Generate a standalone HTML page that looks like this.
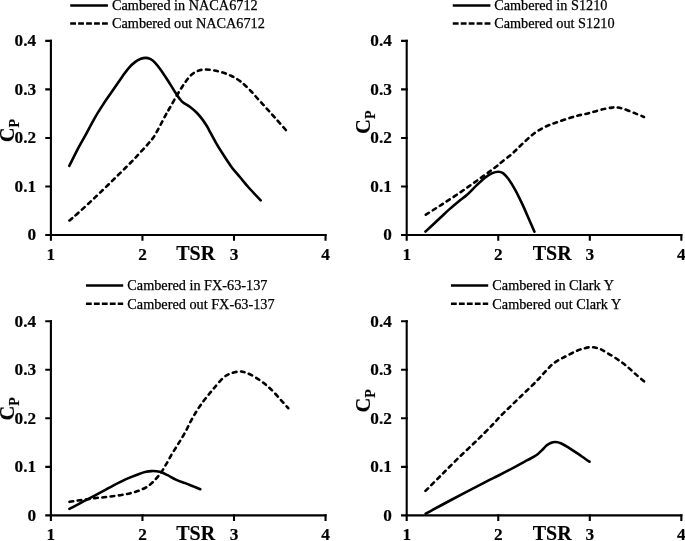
<!DOCTYPE html><html><head><meta charset="utf-8"><title>Cp vs TSR</title>
<style>html,body{margin:0;padding:0;background:#fff}svg{display:block;will-change:transform}text{font-family:"Liberation Serif","Times New Roman",serif;fill:#000}.b{font-weight:bold;stroke:#000;stroke-width:.15}.lt{stroke:#000;stroke-width:.25}.ax{stroke:#000;stroke-width:2.1;fill:none;stroke-linejoin:miter;stroke-linecap:square}.s{stroke:#000;stroke-width:2.6;fill:none;stroke-linecap:round;stroke-linejoin:round}.d{stroke:#000;stroke-width:2.6;fill:none;stroke-dasharray:3.7 4.6;stroke-linecap:round}.ld{stroke:#000;stroke-width:2.5;fill:none;stroke-dasharray:5.8 2.15}.ls{stroke:#000;stroke-width:2.5;fill:none}</style></head><body>
<svg width="685" height="541" viewBox="0 0 685 541">
<rect width="685" height="541" fill="#fff"/>
<g>
<path class="ax" d="M50.90 40.90 V235.00 H325.55"/>
<path class="ax" d="M50.90 235.00 h-4.6M50.90 186.47 h-4.6M50.90 137.95 h-4.6M50.90 89.42 h-4.6M50.90 40.90 h-4.6M50.90 235.00 v4.7M142.45 235.00 v4.7M234.00 235.00 v4.7M325.55 235.00 v4.7"/>
<text class="b" x="36.10" y="240.30" font-size="17.3" text-anchor="end">0</text>
<text class="b" x="36.10" y="191.78" font-size="17.3" text-anchor="end">0.1</text>
<text class="b" x="36.10" y="143.25" font-size="17.3" text-anchor="end">0.2</text>
<text class="b" x="36.10" y="94.72" font-size="17.3" text-anchor="end">0.3</text>
<text class="b" x="36.10" y="46.20" font-size="17.3" text-anchor="end">0.4</text>
<text class="b" x="50.90" y="260.35" font-size="17.3" text-anchor="middle">1</text>
<text class="b" x="142.45" y="260.35" font-size="17.3" text-anchor="middle">2</text>
<text class="b" x="234.00" y="260.35" font-size="17.3" text-anchor="middle">3</text>
<text class="b" x="325.55" y="260.35" font-size="17.3" text-anchor="middle">4</text>
<text class="b" x="195.70" y="259.60" font-size="20" text-anchor="middle">TSR</text>
<text class="b" transform="translate(13.70 142.20) rotate(-90)" font-size="20.5">C<tspan font-size="13.9" dy="5.2">P</tspan></text>
<path class="ls" d="M70.20 5.55 H107.90"/>
<path class="ld" d="M70.20 23.40 H107.90"/>
<text x="112.00" y="10.45" class="lt" font-size="14.25">Cambered in NACA6712</text>
<text x="112.00" y="28.30" class="lt" font-size="14.25">Cambered out NACA6712</text>
<path class="s" d="M69.29 165.92 C70.68 163.15 74.90 154.44 77.60 149.30 C80.30 144.16 82.58 140.43 85.50 135.10 C88.42 129.77 92.03 122.60 95.10 117.30 C98.17 112.00 100.97 107.75 103.90 103.30 C106.83 98.85 109.62 95.07 112.70 90.60 C115.78 86.13 119.70 80.30 122.40 76.50 C125.10 72.70 126.75 70.23 128.90 67.80 C131.05 65.37 133.30 63.40 135.30 61.90 C137.30 60.40 139.20 59.47 140.90 58.80 C142.60 58.13 143.97 57.88 145.50 57.90 C147.03 57.92 148.57 58.17 150.10 58.90 C151.63 59.63 152.85 60.38 154.70 62.30 C156.55 64.22 159.03 67.40 161.20 70.40 C163.37 73.40 165.40 76.70 167.70 80.30 C170.00 83.90 173.03 88.95 175.00 92.00 C176.97 95.05 178.15 96.85 179.50 98.60 C180.85 100.35 181.27 101.07 183.10 102.50 C184.93 103.93 188.18 105.45 190.50 107.20 C192.82 108.95 195.15 111.13 197.00 113.00 C198.85 114.87 200.07 116.40 201.60 118.40 C203.13 120.40 204.98 123.10 206.20 125.00 C207.42 126.90 207.32 126.92 208.90 129.80 C210.48 132.68 213.40 138.32 215.70 142.30 C218.00 146.28 220.07 149.60 222.70 153.70 C225.33 157.80 228.57 162.93 231.50 166.90 C234.43 170.87 237.37 173.98 240.30 177.50 C243.23 181.02 245.71 184.18 249.10 188.00 C252.49 191.82 258.73 198.33 260.65 200.40"/>
<path class="d" d="M69.44 220.48 C70.80 219.32 73.32 217.35 77.60 213.50 C81.88 209.65 89.25 202.92 95.10 197.40 C100.95 191.88 106.83 186.13 112.70 180.40 C118.57 174.67 125.90 167.45 130.30 163.00 C134.70 158.55 136.17 156.85 139.10 153.70 C142.03 150.55 145.27 147.20 147.90 144.10 C150.53 141.00 151.98 139.85 154.90 135.10 C157.82 130.35 162.88 120.20 165.40 115.60 C167.92 111.00 168.07 110.90 170.00 107.50 C171.93 104.10 174.65 99.13 177.00 95.20 C179.35 91.27 181.75 87.25 184.10 83.90 C186.45 80.55 188.77 77.28 191.10 75.10 C193.43 72.92 195.77 71.73 198.10 70.80 C200.43 69.87 202.47 69.57 205.10 69.50 C207.73 69.43 210.97 69.90 213.90 70.40 C216.83 70.90 219.77 71.57 222.70 72.50 C225.63 73.43 228.57 74.53 231.50 76.00 C234.43 77.47 237.37 79.10 240.30 81.30 C243.23 83.50 246.17 86.27 249.10 89.20 C252.03 92.13 254.97 95.68 257.90 98.90 C260.83 102.12 263.78 105.28 266.70 108.50 C269.62 111.72 272.15 114.55 275.40 118.20 C278.65 121.85 284.38 128.35 286.17 130.38"/>
</g>
<g>
<path class="ax" d="M406.70 40.90 V235.00 H681.35"/>
<path class="ax" d="M406.70 235.00 h-4.6M406.70 186.47 h-4.6M406.70 137.95 h-4.6M406.70 89.42 h-4.6M406.70 40.90 h-4.6M406.70 235.00 v4.7M498.25 235.00 v4.7M589.80 235.00 v4.7M681.35 235.00 v4.7"/>
<text class="b" x="391.90" y="240.30" font-size="17.3" text-anchor="end">0</text>
<text class="b" x="391.90" y="191.78" font-size="17.3" text-anchor="end">0.1</text>
<text class="b" x="391.90" y="143.25" font-size="17.3" text-anchor="end">0.2</text>
<text class="b" x="391.90" y="94.72" font-size="17.3" text-anchor="end">0.3</text>
<text class="b" x="391.90" y="46.20" font-size="17.3" text-anchor="end">0.4</text>
<text class="b" x="406.70" y="260.35" font-size="17.3" text-anchor="middle">1</text>
<text class="b" x="498.25" y="260.35" font-size="17.3" text-anchor="middle">2</text>
<text class="b" x="589.80" y="260.35" font-size="17.3" text-anchor="middle">3</text>
<text class="b" x="681.35" y="260.35" font-size="17.3" text-anchor="middle">4</text>
<text class="b" x="552.20" y="259.60" font-size="20" text-anchor="middle">TSR</text>
<text class="b" transform="translate(369.70 133.90) rotate(-90)" font-size="20.5">C<tspan font-size="13.9" dy="5.2">P</tspan></text>
<path class="ls" d="M452.80 5.55 H490.40"/>
<path class="ld" d="M452.80 23.40 H490.40"/>
<text x="494.20" y="10.45" class="lt" font-size="14.25">Cambered in S1210</text>
<text x="494.20" y="28.30" class="lt" font-size="14.25">Cambered out S1210</text>
<path class="s" d="M425.51 231.55 C426.69 230.46 429.95 227.48 432.60 225.00 C435.25 222.52 438.48 219.43 441.40 216.70 C444.32 213.97 447.18 211.18 450.10 208.60 C453.02 206.02 455.97 203.60 458.90 201.20 C461.83 198.80 464.77 196.83 467.70 194.20 C470.63 191.57 473.57 188.18 476.50 185.40 C479.43 182.62 482.67 179.55 485.30 177.50 C487.93 175.45 490.10 174.07 492.30 173.10 C494.50 172.13 496.73 171.70 498.50 171.70 C500.27 171.70 501.30 171.98 502.90 173.10 C504.50 174.22 506.05 175.62 508.10 178.40 C510.15 181.18 512.85 185.55 515.20 189.80 C517.55 194.05 519.87 198.92 522.20 203.90 C524.53 208.88 527.16 215.07 529.20 219.70 C531.24 224.33 533.58 229.69 534.46 231.69"/>
<path class="d" d="M425.83 214.71 C428.42 213.06 435.89 208.37 441.40 204.80 C446.91 201.23 453.05 197.27 458.90 193.30 C464.75 189.33 470.63 185.18 476.50 181.00 C482.37 176.82 489.88 171.38 494.10 168.20 C498.32 165.02 498.97 164.15 501.80 161.90 C504.63 159.65 508.63 156.78 511.10 154.70 C513.57 152.62 514.60 151.32 516.60 149.40 C518.60 147.48 520.93 145.23 523.10 143.20 C525.27 141.17 527.45 139.05 529.60 137.20 C531.75 135.35 533.70 133.68 536.00 132.10 C538.30 130.52 540.93 128.98 543.40 127.70 C545.87 126.42 548.18 125.43 550.80 124.40 C553.42 123.37 555.85 122.60 559.10 121.50 C562.35 120.40 566.97 118.83 570.30 117.80 C573.63 116.77 576.17 116.03 579.10 115.30 C582.03 114.57 584.97 114.13 587.90 113.40 C590.83 112.67 593.78 111.68 596.70 110.90 C599.62 110.12 602.85 109.25 605.40 108.70 C607.95 108.15 610.23 107.82 612.00 107.60 C613.77 107.38 614.17 107.22 616.00 107.40 C617.83 107.58 619.78 107.70 623.00 108.70 C626.22 109.70 631.80 112.02 635.30 113.40 C638.80 114.78 642.54 116.38 643.98 116.98"/>
</g>
<g>
<path class="ax" d="M50.90 321.25 V515.35 H325.55"/>
<path class="ax" d="M50.90 515.35 h-4.6M50.90 466.83 h-4.6M50.90 418.30 h-4.6M50.90 369.77 h-4.6M50.90 321.25 h-4.6M50.90 515.35 v4.7M142.45 515.35 v4.7M234.00 515.35 v4.7M325.55 515.35 v4.7"/>
<text class="b" x="36.10" y="520.65" font-size="17.3" text-anchor="end">0</text>
<text class="b" x="36.10" y="472.13" font-size="17.3" text-anchor="end">0.1</text>
<text class="b" x="36.10" y="423.60" font-size="17.3" text-anchor="end">0.2</text>
<text class="b" x="36.10" y="375.07" font-size="17.3" text-anchor="end">0.3</text>
<text class="b" x="36.10" y="326.55" font-size="17.3" text-anchor="end">0.4</text>
<text class="b" x="50.90" y="540.25" font-size="17.3" text-anchor="middle">1</text>
<text class="b" x="142.45" y="540.25" font-size="17.3" text-anchor="middle">2</text>
<text class="b" x="234.00" y="540.25" font-size="17.3" text-anchor="middle">3</text>
<text class="b" x="325.55" y="540.25" font-size="17.3" text-anchor="middle">4</text>
<text class="b" x="195.70" y="539.95" font-size="20" text-anchor="middle">TSR</text>
<text class="b" transform="translate(13.70 420.50) rotate(-90)" font-size="20.5">C<tspan font-size="13.9" dy="5.2">P</tspan></text>
<path class="ls" d="M85.95 285.50 H123.20"/>
<path class="ld" d="M85.95 303.76 H123.20"/>
<text x="127.30" y="290.40" class="lt" font-size="14.25">Cambered in FX-63-137</text>
<text x="127.30" y="308.66" class="lt" font-size="14.25">Cambered out FX-63-137</text>
<path class="s" d="M69.38 508.89 C70.75 508.18 74.76 506.10 77.60 504.60 C80.44 503.10 83.48 501.45 86.40 499.90 C89.32 498.35 92.18 496.85 95.10 495.30 C98.02 493.75 100.97 492.18 103.90 490.60 C106.83 489.02 109.77 487.33 112.70 485.80 C115.63 484.27 118.57 482.80 121.50 481.40 C124.43 480.00 127.37 478.65 130.30 477.40 C133.23 476.15 136.47 474.83 139.10 473.90 C141.73 472.97 144.05 472.27 146.10 471.80 C148.15 471.33 149.63 471.18 151.40 471.10 C153.17 471.02 154.92 471.07 156.70 471.30 C158.48 471.53 160.28 471.85 162.10 472.50 C163.92 473.15 165.22 473.97 167.60 475.20 C169.98 476.43 173.48 478.58 176.40 479.90 C179.32 481.22 182.18 481.98 185.10 483.10 C188.02 484.22 191.37 485.59 193.90 486.60 C196.43 487.61 199.22 488.76 200.28 489.19"/>
<path class="d" d="M69.49 501.83 C70.84 501.63 74.78 501.01 77.60 500.60 C80.42 500.19 83.48 499.82 86.40 499.40 C89.32 498.98 92.18 498.45 95.10 498.10 C98.02 497.75 100.97 497.62 103.90 497.30 C106.83 496.98 109.77 496.58 112.70 496.20 C115.63 495.82 118.57 495.50 121.50 495.00 C124.43 494.50 127.37 493.93 130.30 493.20 C133.23 492.47 136.17 491.77 139.10 490.60 C142.03 489.43 145.27 487.97 147.90 486.20 C150.53 484.43 152.67 482.35 154.90 480.00 C157.13 477.65 159.42 474.73 161.30 472.10 C163.18 469.47 164.48 467.12 166.20 464.20 C167.92 461.28 169.80 457.65 171.60 454.60 C173.40 451.55 175.38 448.50 177.00 445.90 C178.62 443.30 179.80 441.53 181.30 439.00 C182.80 436.47 184.60 433.32 186.00 430.70 C187.40 428.08 188.40 425.77 189.70 423.30 C191.00 420.83 192.42 418.30 193.80 415.90 C195.18 413.50 196.53 411.17 198.00 408.90 C199.47 406.63 200.92 404.57 202.60 402.30 C204.28 400.03 206.27 397.58 208.10 395.30 C209.93 393.02 210.97 391.60 213.60 388.60 C216.23 385.60 220.92 379.87 223.90 377.30 C226.88 374.73 228.85 374.17 231.50 373.20 C234.15 372.23 237.25 371.53 239.80 371.50 C242.35 371.47 244.17 372.02 246.80 373.00 C249.43 373.98 252.67 375.63 255.60 377.40 C258.53 379.17 261.48 381.25 264.40 383.60 C267.32 385.95 270.18 388.58 273.10 391.50 C276.02 394.42 279.37 398.32 281.90 401.10 C284.43 403.88 287.20 407.00 288.26 408.18"/>
</g>
<g>
<path class="ax" d="M406.70 321.25 V515.35 H681.35"/>
<path class="ax" d="M406.70 515.35 h-4.6M406.70 466.83 h-4.6M406.70 418.30 h-4.6M406.70 369.77 h-4.6M406.70 321.25 h-4.6M406.70 515.35 v4.7M498.25 515.35 v4.7M589.80 515.35 v4.7M681.35 515.35 v4.7"/>
<text class="b" x="391.90" y="520.65" font-size="17.3" text-anchor="end">0</text>
<text class="b" x="391.90" y="472.13" font-size="17.3" text-anchor="end">0.1</text>
<text class="b" x="391.90" y="423.60" font-size="17.3" text-anchor="end">0.2</text>
<text class="b" x="391.90" y="375.07" font-size="17.3" text-anchor="end">0.3</text>
<text class="b" x="391.90" y="326.55" font-size="17.3" text-anchor="end">0.4</text>
<text class="b" x="406.70" y="540.25" font-size="17.3" text-anchor="middle">1</text>
<text class="b" x="498.25" y="540.25" font-size="17.3" text-anchor="middle">2</text>
<text class="b" x="589.80" y="540.25" font-size="17.3" text-anchor="middle">3</text>
<text class="b" x="681.35" y="540.25" font-size="17.3" text-anchor="middle">4</text>
<text class="b" x="552.20" y="539.95" font-size="20" text-anchor="middle">TSR</text>
<text class="b" transform="translate(369.70 412.60) rotate(-90)" font-size="20.5">C<tspan font-size="13.9" dy="5.2">P</tspan></text>
<path class="ls" d="M450.95 285.50 H488.20"/>
<path class="ld" d="M450.95 303.76 H488.20"/>
<text x="492.30" y="290.40" class="lt" font-size="14.25">Cambered in Clark Y</text>
<text x="492.30" y="308.66" class="lt" font-size="14.25">Cambered out Clark Y</text>
<path class="s" d="M425.67 513.68 C429.74 511.48 440.16 505.76 450.10 500.50 C460.04 495.24 477.38 486.18 485.30 482.10 C493.22 478.02 492.63 478.53 497.60 476.00 C502.57 473.47 510.13 469.53 515.10 466.90 C520.07 464.27 523.88 462.13 527.40 460.20 C530.92 458.27 533.85 456.90 536.20 455.30 C538.55 453.70 539.73 452.27 541.50 450.60 C543.27 448.93 545.18 446.62 546.80 445.30 C548.42 443.98 549.73 443.25 551.20 442.70 C552.67 442.15 554.00 441.92 555.60 442.00 C557.20 442.08 558.75 442.35 560.80 443.20 C562.85 444.05 565.25 445.48 567.90 447.10 C570.55 448.72 573.78 450.92 576.70 452.90 C579.62 454.88 583.27 457.53 585.40 459.00 C587.53 460.47 588.80 461.25 589.48 461.69"/>
<path class="d" d="M425.48 490.92 C428.13 488.27 435.83 480.57 441.40 475.00 C446.97 469.43 453.05 463.20 458.90 457.50 C464.75 451.80 470.93 446.22 476.50 440.80 C482.07 435.38 488.38 429.03 492.30 425.00 C496.22 420.97 497.25 419.43 500.00 416.60 C502.75 413.77 505.87 410.85 508.80 408.00 C511.73 405.15 514.67 402.33 517.60 399.50 C520.53 396.67 523.38 393.92 526.40 391.00 C529.42 388.08 533.15 384.58 535.70 382.00 C538.25 379.42 539.70 377.67 541.70 375.50 C543.70 373.33 545.77 371.00 547.70 369.00 C549.63 367.00 551.13 365.18 553.30 363.50 C555.47 361.82 558.23 360.28 560.70 358.90 C563.17 357.52 565.48 356.52 568.10 355.20 C570.72 353.88 573.83 352.12 576.40 351.00 C578.97 349.88 581.00 349.13 583.50 348.50 C586.00 347.87 588.78 347.17 591.40 347.20 C594.02 347.23 596.60 347.77 599.20 348.70 C601.80 349.63 603.92 351.00 607.00 352.80 C610.08 354.60 614.45 357.30 617.70 359.50 C620.95 361.70 623.57 363.60 626.50 366.00 C629.43 368.40 632.36 371.32 635.30 373.90 C638.24 376.48 642.69 380.22 644.16 381.48"/>
</g>
</svg></body></html>
